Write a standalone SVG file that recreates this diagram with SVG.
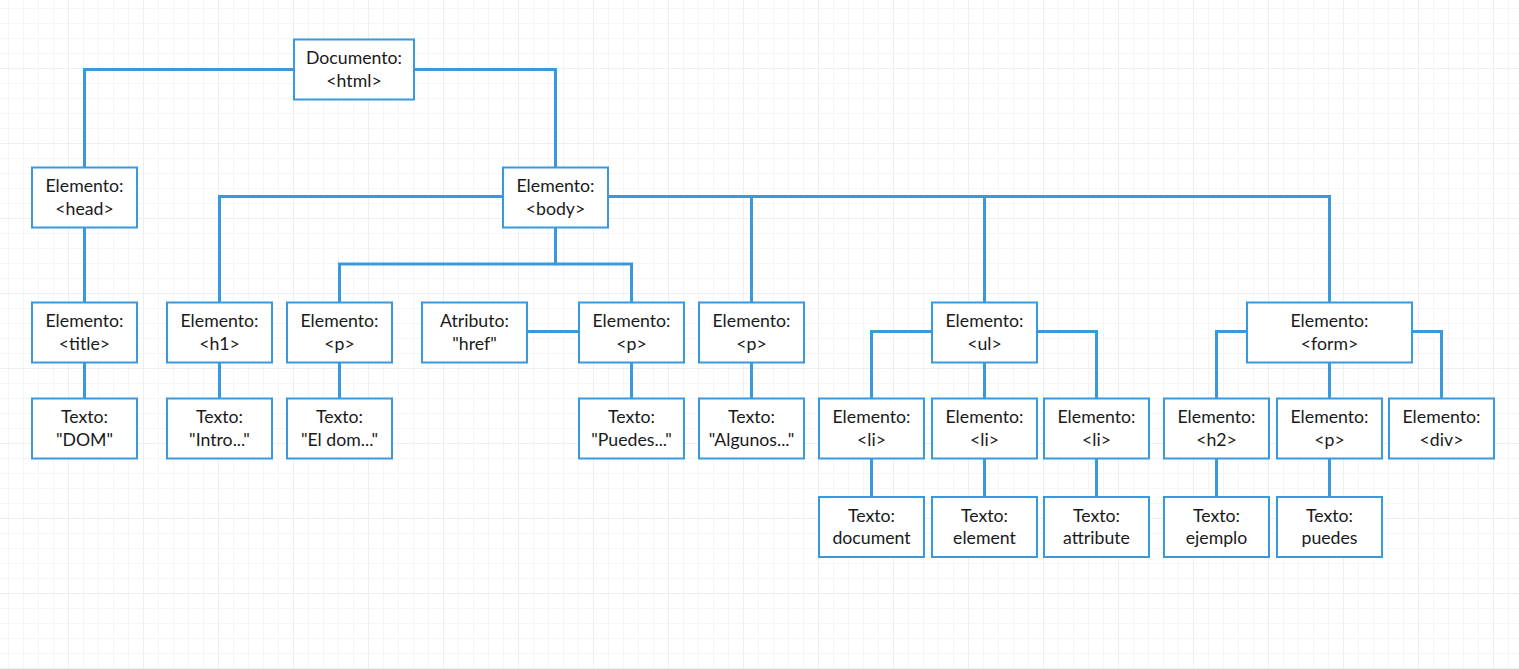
<svg xmlns="http://www.w3.org/2000/svg" width="1519" height="669" viewBox="0 0 1519 669">
<defs>
<pattern id="minor" x="8" y="8" width="15" height="15" patternUnits="userSpaceOnUse">
<path d="M0.5 0V15M0 0.5H15" stroke="#f5f5f5" stroke-width="1" fill="none"/>
</pattern>
<pattern id="major" x="68" y="68" width="75" height="75" patternUnits="userSpaceOnUse">
<path d="M0.5 0V75M0 0.5H75" stroke="#eeeeee" stroke-width="1" fill="none"/>
</pattern>
</defs>
<style>
.n rect{fill:#ffffff;stroke:#3a99dc;stroke-width:2}
.n text{font-family:Lato,"Liberation Sans",sans-serif;font-size:17.7px;fill:#1a1a1a;text-anchor:middle}
#connectors path{fill:none;stroke:#3a99dc;stroke-width:3}
</style>
<rect width="1519" height="669" fill="#ffffff"/>
<rect width="1519" height="669" fill="url(#minor)"/>
<rect width="1519" height="669" fill="url(#major)"/>
<g id="connectors">
<path d="M294 69.5H84.5V167.5"/>
<path d="M414 69.5H555.5V167.5"/>
<path d="M84.5 227.5V302.5"/>
<path d="M84.5 362.5V398.5"/>
<path d="M503 196.5H219.5V302.5"/>
<path d="M608 196.5H1329.5V302.5"/>
<path d="M751.5 196.5V302.5"/>
<path d="M984.5 196.5V302.5"/>
<path d="M555.5 227.5V264H339.5V302.5"/>
<path d="M555.5 264H631.5V302.5"/>
<path d="M527 331.5H579"/>
<path d="M219.5 362.5V398.5"/>
<path d="M339.5 362.5V398.5"/>
<path d="M631.5 362.5V398.5"/>
<path d="M751.5 362.5V398.5"/>
<path d="M932 331.5H871.5V398.5"/>
<path d="M984.5 362.5V398.5"/>
<path d="M1037 331.5H1096.5V398.5"/>
<path d="M871.5 458.5V497"/>
<path d="M984.5 458.5V497"/>
<path d="M1096.5 458.5V497"/>
<path d="M1247 331.5H1216.5V398.5"/>
<path d="M1329.5 362.5V398.5"/>
<path d="M1412 331.5H1441.5V398.5"/>
<path d="M1216.5 458.5V497"/>
<path d="M1329.5 458.5V497"/>
</g>
<g id="n-html" class="n"><rect x="294" y="39.5" width="120" height="60"/><text x="354" y="64.3">Documento:</text><text x="354" y="86.8">&lt;html&gt;</text></g>
<g id="n-head" class="n"><rect x="32" y="167.5" width="105" height="60"/><text x="84.5" y="192.3">Elemento:</text><text x="84.5" y="214.8">&lt;head&gt;</text></g>
<g id="n-body" class="n"><rect x="503" y="167.5" width="105" height="60"/><text x="555.5" y="192.3">Elemento:</text><text x="555.5" y="214.8">&lt;body&gt;</text></g>
<g id="n-title" class="n"><rect x="32" y="302.5" width="105" height="60"/><text x="84.5" y="327.3">Elemento:</text><text x="84.5" y="349.8">&lt;title&gt;</text></g>
<g id="n-h1" class="n"><rect x="167" y="302.5" width="105" height="60"/><text x="219.5" y="327.3">Elemento:</text><text x="219.5" y="349.8">&lt;h1&gt;</text></g>
<g id="n-p1" class="n"><rect x="287" y="302.5" width="105" height="60"/><text x="339.5" y="327.3">Elemento:</text><text x="339.5" y="349.8">&lt;p&gt;</text></g>
<g id="n-href" class="n"><rect x="422" y="302.5" width="105" height="60"/><text x="474.5" y="327.3">Atributo:</text><text x="474.5" y="349.8">"href"</text></g>
<g id="n-p2" class="n"><rect x="579" y="302.5" width="105" height="60"/><text x="631.5" y="327.3">Elemento:</text><text x="631.5" y="349.8">&lt;p&gt;</text></g>
<g id="n-p3" class="n"><rect x="699" y="302.5" width="105" height="60"/><text x="751.5" y="327.3">Elemento:</text><text x="751.5" y="349.8">&lt;p&gt;</text></g>
<g id="n-ul" class="n"><rect x="932" y="302.5" width="105" height="60"/><text x="984.5" y="327.3">Elemento:</text><text x="984.5" y="349.8">&lt;ul&gt;</text></g>
<g id="n-form" class="n"><rect x="1247" y="302.5" width="165" height="60"/><text x="1329.5" y="327.3">Elemento:</text><text x="1329.5" y="349.8">&lt;form&gt;</text></g>
<g id="n-t-dom" class="n"><rect x="32" y="398.5" width="105" height="60"/><text x="84.5" y="423.3">Texto:</text><text x="84.5" y="445.8">"DOM"</text></g>
<g id="n-t-intro" class="n"><rect x="167" y="398.5" width="105" height="60"/><text x="219.5" y="423.3">Texto:</text><text x="219.5" y="445.8">"Intro..."</text></g>
<g id="n-t-eldom" class="n"><rect x="287" y="398.5" width="105" height="60"/><text x="339.5" y="423.3">Texto:</text><text x="339.5" y="445.8">"El dom..."</text></g>
<g id="n-t-puedes" class="n"><rect x="579" y="398.5" width="105" height="60"/><text x="631.5" y="423.3">Texto:</text><text x="631.5" y="445.8">"Puedes..."</text></g>
<g id="n-t-algunos" class="n"><rect x="699" y="398.5" width="105" height="60"/><text x="751.5" y="423.3">Texto:</text><text x="751.5" y="445.8">"Algunos..."</text></g>
<g id="n-li1" class="n"><rect x="819" y="398.5" width="105" height="60"/><text x="871.5" y="423.3">Elemento:</text><text x="871.5" y="445.8">&lt;li&gt;</text></g>
<g id="n-li2" class="n"><rect x="932" y="398.5" width="105" height="60"/><text x="984.5" y="423.3">Elemento:</text><text x="984.5" y="445.8">&lt;li&gt;</text></g>
<g id="n-li3" class="n"><rect x="1044" y="398.5" width="105" height="60"/><text x="1096.5" y="423.3">Elemento:</text><text x="1096.5" y="445.8">&lt;li&gt;</text></g>
<g id="n-h2" class="n"><rect x="1164" y="398.5" width="105" height="60"/><text x="1216.5" y="423.3">Elemento:</text><text x="1216.5" y="445.8">&lt;h2&gt;</text></g>
<g id="n-pf" class="n"><rect x="1277" y="398.5" width="105" height="60"/><text x="1329.5" y="423.3">Elemento:</text><text x="1329.5" y="445.8">&lt;p&gt;</text></g>
<g id="n-div" class="n"><rect x="1389" y="398.5" width="105" height="60"/><text x="1441.5" y="423.3">Elemento:</text><text x="1441.5" y="445.8">&lt;div&gt;</text></g>
<g id="n-t-document" class="n"><rect x="819" y="497" width="105" height="60"/><text x="871.5" y="521.8">Texto:</text><text x="871.5" y="544.3">document</text></g>
<g id="n-t-element" class="n"><rect x="932" y="497" width="105" height="60"/><text x="984.5" y="521.8">Texto:</text><text x="984.5" y="544.3">element</text></g>
<g id="n-t-attribute" class="n"><rect x="1044" y="497" width="105" height="60"/><text x="1096.5" y="521.8">Texto:</text><text x="1096.5" y="544.3">attribute</text></g>
<g id="n-t-ejemplo" class="n"><rect x="1164" y="497" width="105" height="60"/><text x="1216.5" y="521.8">Texto:</text><text x="1216.5" y="544.3">ejemplo</text></g>
<g id="n-t-puedes2" class="n"><rect x="1277" y="497" width="105" height="60"/><text x="1329.5" y="521.8">Texto:</text><text x="1329.5" y="544.3">puedes</text></g>
</svg>
